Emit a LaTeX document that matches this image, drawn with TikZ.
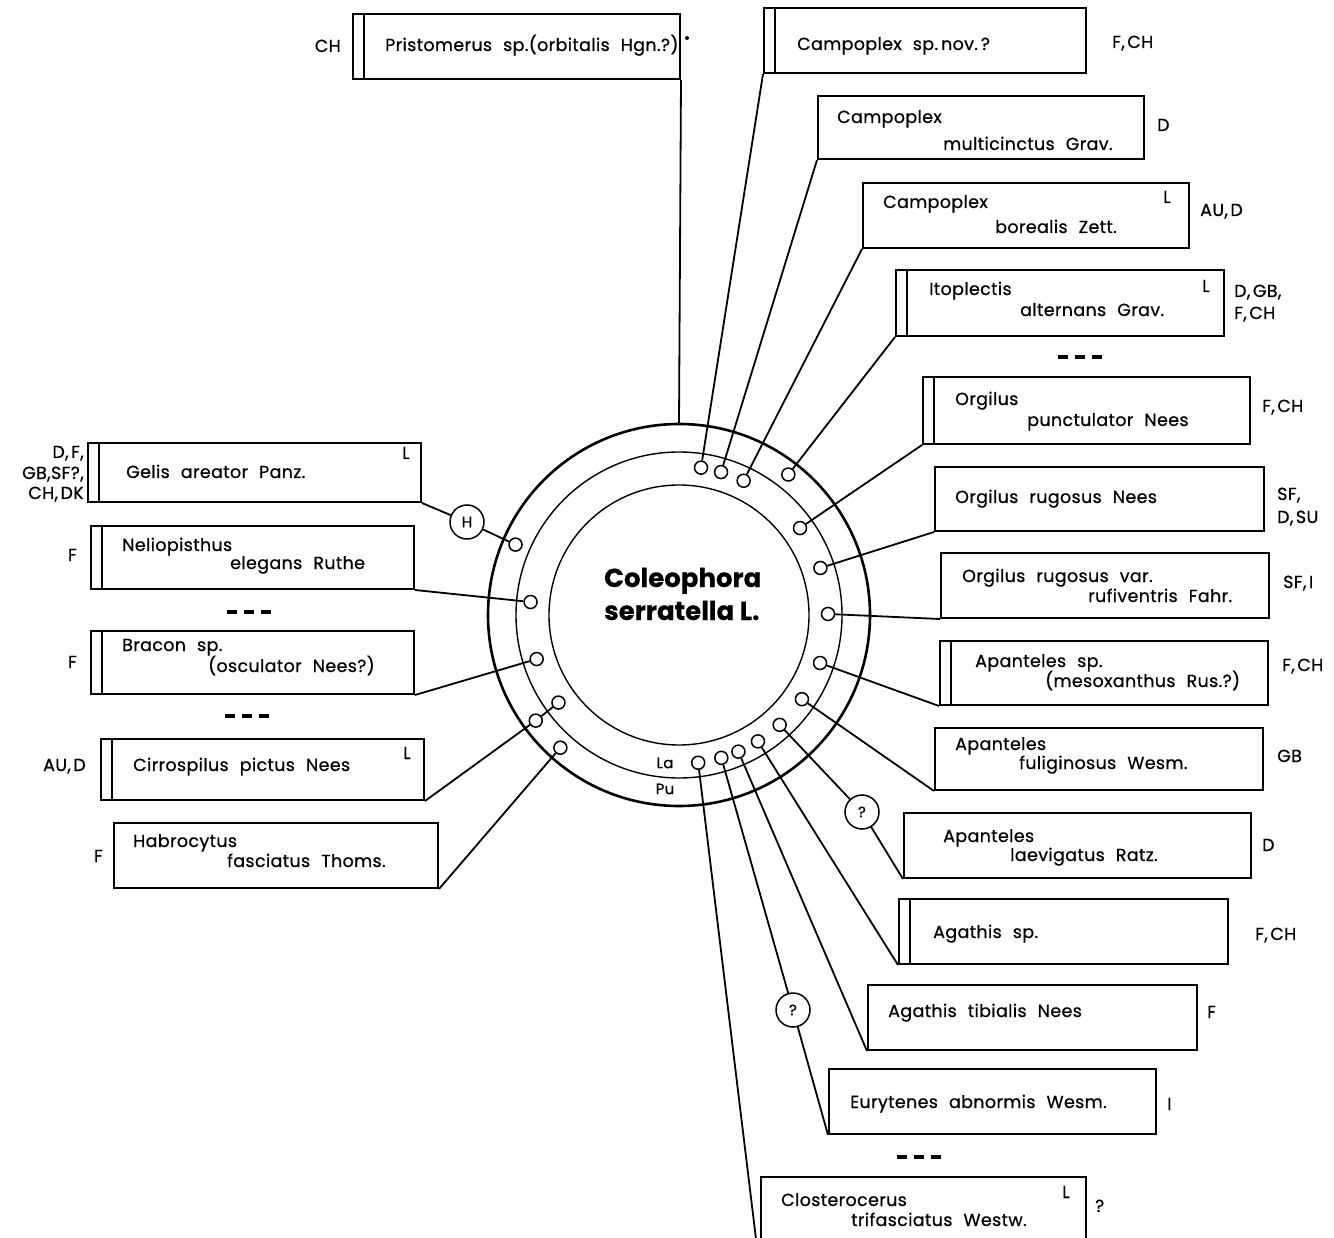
\documentclass[tikz,border=0pt]{standalone}
\usepackage{fontspec}
\setmainfont{Poppins}[LetterSpace=2,WordSpace=2.2,FakeBold=0.6]
\newfontfamily\titlefont{Poppins}[FakeBold=0.4]
\usetikzlibrary{calc}
\newcommand\spbox[6]{%
  \node[sbox,minimum width={#4-#2},minimum height={#5-#3}] (#1) at (#2,#3) {};
  \ifnum#6=1 \draw[boxline] ([xshift=12pt]#1.north west) -- ([xshift=12pt]#1.south west);\fi}
\newcommand\cs{,\hspace{2.5pt}}
\begin{document}
\begin{tikzpicture}[x=1pt,y=-1pt,
  boxline/.style={line width=2pt},
  sbox/.style={draw,line width=2pt,inner sep=0pt,anchor=north west},
  lab/.style={font=\fontsize{17.5}{17.5}\selectfont,inner sep=0pt,anchor=base west},
  rlab/.style={font=\fontsize{17.5}{17.5}\selectfont,inner sep=0pt,anchor=base east},
  conn/.style={line width=1.8pt},
  pt/.style={circle,draw,line width=1.5pt,fill=white,inner sep=0pt,minimum size=13pt},
  qc/.style={circle,draw,line width=1.5pt,fill=white,inner sep=0pt,minimum size=34pt,font=\fontsize{15}{15}\selectfont},
  dash3/.style={line width=3.8pt,dash pattern=on 10pt off 7pt}
]
\useasboundingbox (0,0) rectangle (1334,1238);
% rings
\coordinate (O) at (679,615);
\draw[line width=2.6pt] (O) circle[radius=191];
\draw[line width=1.4pt] (O) circle[radius=163];
\draw[line width=1.4pt] (O) circle[radius=130];
\node[font=\fontsize{26}{26}\titlefont\bfseries,inner sep=0pt,anchor=base west] (ti1) at (604,587) {Coleophora};
\node[font=\fontsize{26}{26}\titlefont\bfseries,inner sep=0pt,anchor=base west] (ti2) at (604,620) {serratella L.};
\node[font=\fontsize{15}{15}\selectfont,inner sep=0pt] (la) at (665,763) {La};
\node[font=\fontsize{15}{15}\selectfont,inner sep=0pt] (pu) at (665,789) {Pu};

% boxes
\spbox{prist}{352}{13}{679}{78}{1}
\spbox{campA}{763}{7}{1085}{72}{1}
\spbox{campB}{817}{95}{1143}{158}{0}
\spbox{campC}{862}{182}{1188}{247}{0}
\spbox{itop}{895}{269}{1223}{335}{1}
\spbox{orgP}{922}{376}{1249}{443}{1}
\spbox{orgR}{934}{466}{1263}{530}{0}
\spbox{orgV}{940}{552}{1268}{617}{0}
\spbox{apS}{939}{640}{1267}{704}{1}
\spbox{apF}{934}{727}{1262}{789}{0}
\spbox{apL}{903}{812}{1250}{877}{0}
\spbox{agS}{898}{898}{1227}{963}{1}
\spbox{agT}{867}{984}{1196}{1049}{0}
\spbox{eur}{828}{1068}{1155}{1133}{0}
\spbox{clo}{760}{1176}{1085}{1270}{0}
\spbox{gel}{87}{442}{420}{501}{1}
\spbox{nel}{90}{525}{413}{588}{1}
\spbox{bra}{90}{630}{413}{693}{1}
\spbox{cir}{100}{738}{423}{799}{1}
\spbox{hab}{113}{822}{437}{887}{0}

% texts in boxes
\node[lab] (tprist) at (385,51) {Pristomerus sp.(orbitalis Hgn.?)};
\node[lab] (tcampA) at (797,50) {Campoplex sp.\,nov.\,?};
\node[lab] (tcampB1) at (837,123) {Campoplex};
\node[lab] (tcampB2) at (943,150) {multicinctus Grav.};
\node[lab] (tcampC1) at (883,208) {Campoplex};
\node[lab] (tcampC2) at (995,233) {borealis Zett.};
\node[lab] (titop1) at (929,295) {Itoplectis};
\node[lab] (titop2) at (1020,316) {alternans Grav.};
\node[lab] (torgP1) at (955,405) {Orgilus};
\node[lab] (torgP2) at (1027,426) {punctulator Nees};
\node[lab] (torgR) at (955,503) {Orgilus rugosus Nees};
\node[lab] (torgV1) at (962,582) {Orgilus rugosus var.};
\node[lab] (torgV2) at (1088,602) {rufiventris Fahr.};
\node[lab] (tapS1) at (975,667) {Apanteles sp.};
\node[lab] (tapS2) at (1045,687) {(mesoxanthus Rus.?)};
\node[lab] (tapF1) at (955,750) {Apanteles};
\node[lab] (tapF2) at (1019,769) {fuliginosus Wesm.};
\node[lab] (tapL1) at (943,842) {Apanteles};
\node[lab] (tapL2) at (1010,861) {laevigatus Ratz.};
\node[lab] (tagS) at (933,938) {Agathis sp.};
\node[lab] (tagT) at (888,1017) {Agathis tibialis Nees};
\node[lab] (teur) at (850,1108) {Eurytenes abnormis Wesm.};
\node[lab] (tclo1) at (781,1206) {Closterocerus};
\node[lab] (tclo2) at (851,1226) {trifasciatus Westw.};
\node[lab] (tgel) at (126,478) {Gelis areator Panz.};
\node[lab] (tnel1) at (122,551) {Neliopisthus};
\node[lab] (tnel2) at (230,569) {elegans Ruthe};
\node[lab] (tbra1) at (122,651) {Bracon sp.};
\node[lab] (tbra2) at (208,672) {(osculator Nees?)};
\node[lab] (tcir) at (133,771) {Cirrospilus pictus Nees};
\node[lab] (thab1) at (133,847) {Habrocytus};
\node[lab] (thab2) at (227,867) {fasciatus Thoms.};
% L marks
\node[lab] (LcampC) at (1163,203) {L};
\node[lab] (Litop) at (1202,292) {L};
\node[lab] (Lclo) at (1062,1198) {L};
\node[lab] (Lgel) at (402,459) {L};
\node[lab] (Lcir) at (403,759) {L};
% country labels
\node[rlab] (cprist) at (341,52) {CH};
\node[lab] (ccampA) at (1112,48) {F\cs CH};
\node[lab] (ccampB) at (1157,131) {D};
\node[lab] (ccampC) at (1200,216) {AU\cs D};
\node[lab] (citop1) at (1234,297) {D\cs GB,};
\node[lab] (citop2) at (1234,319) {F\cs CH};
\node[lab] (corgP) at (1262,412) {F\cs CH};
\node[lab] (corgR1) at (1277,500) {SF,};
\node[lab] (corgR2) at (1277,523) {D\cs SU};
\node[lab] (corgV) at (1283,588) {SF\cs I};
\node[lab] (capS) at (1282,671) {F\cs CH};
\node[lab] (capF) at (1277,762) {GB};
\node[lab] (capL) at (1262,851) {D};
\node[lab] (cagS) at (1255,940) {F\cs CH};
\node[lab] (cagT) at (1207,1018) {F};
\node[lab] (ceur) at (1167,1110) {I};
\node[lab] (cclo) at (1095,1212) {?};
\node[rlab] (cgel1) at (84,458) {D\cs F,};
\node[rlab] (cgel2) at (84,479) {GB,SF?,};
\node[rlab] (cgel3) at (84,499) {CH\cs DK};
\node[rlab] (cnel) at (77,561) {F};
\node[rlab] (cbra) at (77,668) {F};
\node[rlab] (ccir) at (86,771) {AU\cs D};
\node[rlab] (chab) at (103,862) {F};
\fill (687,38) circle[radius=2];
% dashes
\draw[dash3] (1058,357) -- (1104,357);
\draw[dash3] (227,612) -- (273,612);
\draw[dash3] (225,716) -- (271,716);
\draw[dash3] (897,1157) -- (943,1157);

% attachment circles
\node[pt] (kcampA) at ($(O)+(-81.5:149)$) {};
\node[pt] (kcampB) at ($(O)+(-73.6:149)$) {};
\node[pt] (kcampC) at ($(O)+(-64.3:149)$) {};
\node[pt] (kitop) at ($(O)+(-52.1:178)$) {};
\node[pt] (korgP) at ($(O)+(-35.7:149)$) {};
\node[pt] (korgR) at ($(O)+(-18.4:149)$) {};
\node[pt] (korgV) at ($(O)+(-0.4:149)$) {};
\node[pt] (kapS) at ($(O)+(18.8:149)$) {};
\node[pt] (kapF) at ($(O)+(34.4:149)$) {};
\node[pt] (kapL) at ($(O)+(47.5:149)$) {};
\node[pt] (kagS) at ($(O)+(58:149)$) {};
\node[pt] (kagT) at ($(O)+(66.5:149)$) {};
\node[pt] (keur) at ($(O)+(73.5:149)$) {};
\node[pt] (kclo) at ($(O)+(82.6:149)$) {};
\node[pt] (kgel) at ($(O)+(-156.7:178)$) {};
\node[pt] (knel) at ($(O)+(-175:149)$) {};
\node[pt] (kbra) at ($(O)+(162.8:149)$) {};
\node[pt] (kcirL) at ($(O)+(144:149)$) {};
\node[pt] (kcirP) at ($(O)+(143.6:178)$) {};
\node[pt] (khab) at ($(O)+(131.8:178)$) {};
\coordinate (ptop) at ($(O)+(-90:191)$);
\node[qc] (hq) at (467,522) {H};
\node[qc] (q1) at (862,812) {?};
\node[qc] (q2) at (793,1010) {?};

% connectors
\draw[conn] (prist.south east) -- (ptop);
\draw[conn] (campA.south west) -- (kcampA);
\draw[conn] (campB.south west) -- (kcampB);
\draw[conn] (campC.south west) -- (kcampC);
\draw[conn] (itop.south west) -- (kitop);
\draw[conn] (orgP.south west) -- (korgP);
\draw[conn] (orgR.south west) -- (korgR);
\draw[conn] (orgV.south west) -- (korgV);
\draw[conn] (apS.south west) -- (kapS);
\draw[conn] (apF.south west) -- (kapF);
\draw[conn] (apL.south west) -- (q1) -- (kapL);
\draw[conn] (agS.south west) -- (kagS);
\draw[conn] (agT.south west) -- (kagT);
\draw[conn] (eur.south west) -- (q2) -- (keur);
\draw[conn] (clo.south west) -- (kclo);
\draw[conn] (gel.south east) -- (hq) -- (kgel);
\draw[conn] (nel.south east) -- (knel);
\draw[conn] (bra.south east) -- (kbra);
\draw[conn] (cir.south east) -- (kcirP) -- (kcirL);
\draw[conn] (hab.south east) -- (khab);
\end{tikzpicture}
\end{document}
